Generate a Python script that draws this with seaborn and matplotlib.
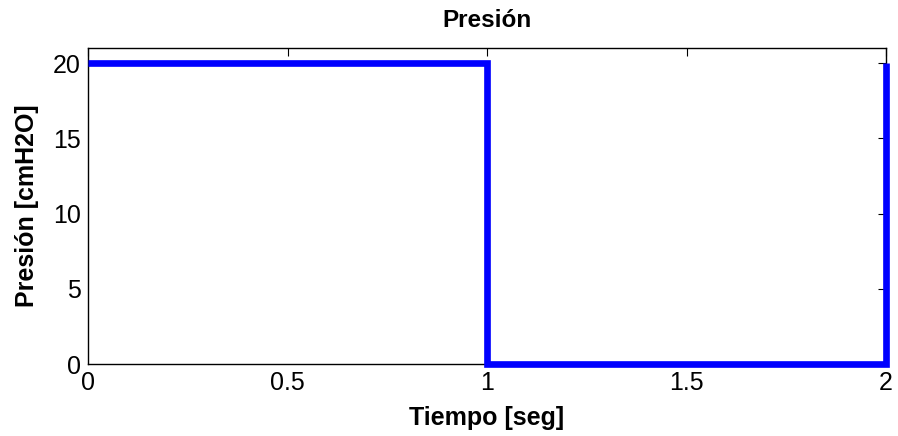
import matplotlib
matplotlib.use("Agg")
import matplotlib.pyplot as plt
import seaborn as sns
import pandas as pd

# Square pressure waveform over one respiratory cycle
tiempo = [0.0, 1.0, 1.0, 2.0, 2.0]
presion = [20.0, 20.0, 0.0, 0.0, 20.0]
x_ticks = [0, 0.5, 1, 1.5, 2]
x_tick_labels = ["0", "0.5", "1", "1.5", "2"]
y_ticks = [0, 5, 10, 15, 20]

sns.set_theme(style="white")
plt.rcParams["font.family"] = ["Liberation Sans", "DejaVu Sans"]
plt.rcParams["text.color"] = "#000000"
plt.rcParams["axes.labelcolor"] = "#000000"

df = pd.DataFrame({"t": tiempo, "p": presion})

fig = plt.figure(figsize=(8.98, 4.36), dpi=100)
ax = fig.add_axes([88 / 898, 1 - 364 / 436, (886 - 88) / 898, (364 - 48) / 436])

sns.lineplot(data=df, x="t", y="p", sort=False, ax=ax, color="#0000FF",
             linewidth=4.8, estimator=None, solid_capstyle="butt",
             solid_joinstyle="miter", clip_on=False, zorder=3)

ax.set_xlim(0, 2)
ax.set_ylim(0, 21)
ax.set_xticks(x_ticks)
ax.set_xticklabels(x_tick_labels)
ax.set_yticks(y_ticks)
ax.tick_params(direction="in", length=6, width=0.8, colors="#000000",
               labelsize=18, top=True, right=True, pad=5)
for s in ax.spines.values():
    s.set_visible(True)
    s.set_color("#000000")
    s.set_linewidth(1.0)
ax.grid(False)

ax.set_title("Presión", fontsize=17.5, fontweight="bold", pad=15, color="#000000")
ax.set_xlabel("Tiempo [seg]", fontsize=18, fontweight="bold", labelpad=8)
ax.set_ylabel("Presión [cmH2O]", fontsize=18, fontweight="bold", labelpad=10)

fig.savefig("out.png", dpi=100, facecolor="white")
